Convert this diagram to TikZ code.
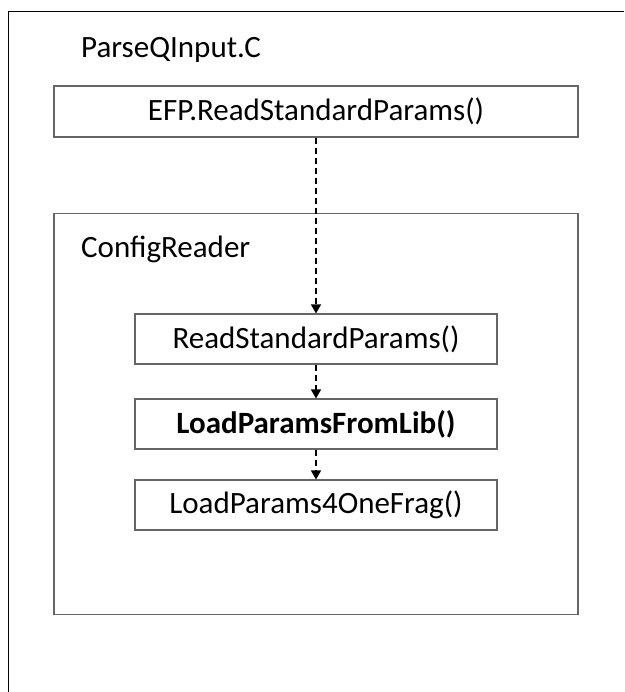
\documentclass[tikz,border=0pt]{standalone}
\usepackage{fontspec}
\setmainfont{Carlito}
\usetikzlibrary{arrows.meta}
\tikzset{
	callbox/.style={draw=black!60, line width=1.1pt, minimum width=524pt, minimum height=51pt, inner sep=0pt, font=\fontsize{31}{35}\selectfont},
	funcbox/.style={callbox, minimum width=362pt, minimum height=50pt},
	title/.style={anchor=west, inner sep=0pt, font=\fontsize{31}{35}\selectfont},
	calls/.style={-{Triangle[length=9pt, width=10pt]}, dash pattern=on 6pt off 4pt, line width=1.5pt}
}

\begin{document}
\begin{tikzpicture}[x=1pt, y=-1pt]
				\useasboundingbox (0, 0) rectangle (624, 692);
				\draw[line width=0.9pt] (8, 692) -- (8, 11) -- (624, 11);
				
				\node[title] (parse) at (81, 50) {ParseQInput.C};
				\node[callbox] (efp) at (316, 111.5) {EFP.ReadStandardParams()};
				
				\node[callbox, minimum height=401pt] (cfg) at (316, 414) {};
				\node[title] (cfgname) at (81, 249) {ConfigReader};
				
				\node[funcbox] (rsp) at (316, 339) {ReadStandardParams()};
				\node[funcbox] (lpl) at (316, 424) {\bfseries LoadParamsFromLib()};
				\node[funcbox] (lpf) at (316, 505) {LoadParams4OneFrag()};
				
				\draw[calls] (efp.south) -- (rsp.north);
				\draw[calls] (rsp.south) -- (lpl.north);
				\draw[calls] (lpl.south) -- (lpf.north);
			\end{tikzpicture}
\end{document}
